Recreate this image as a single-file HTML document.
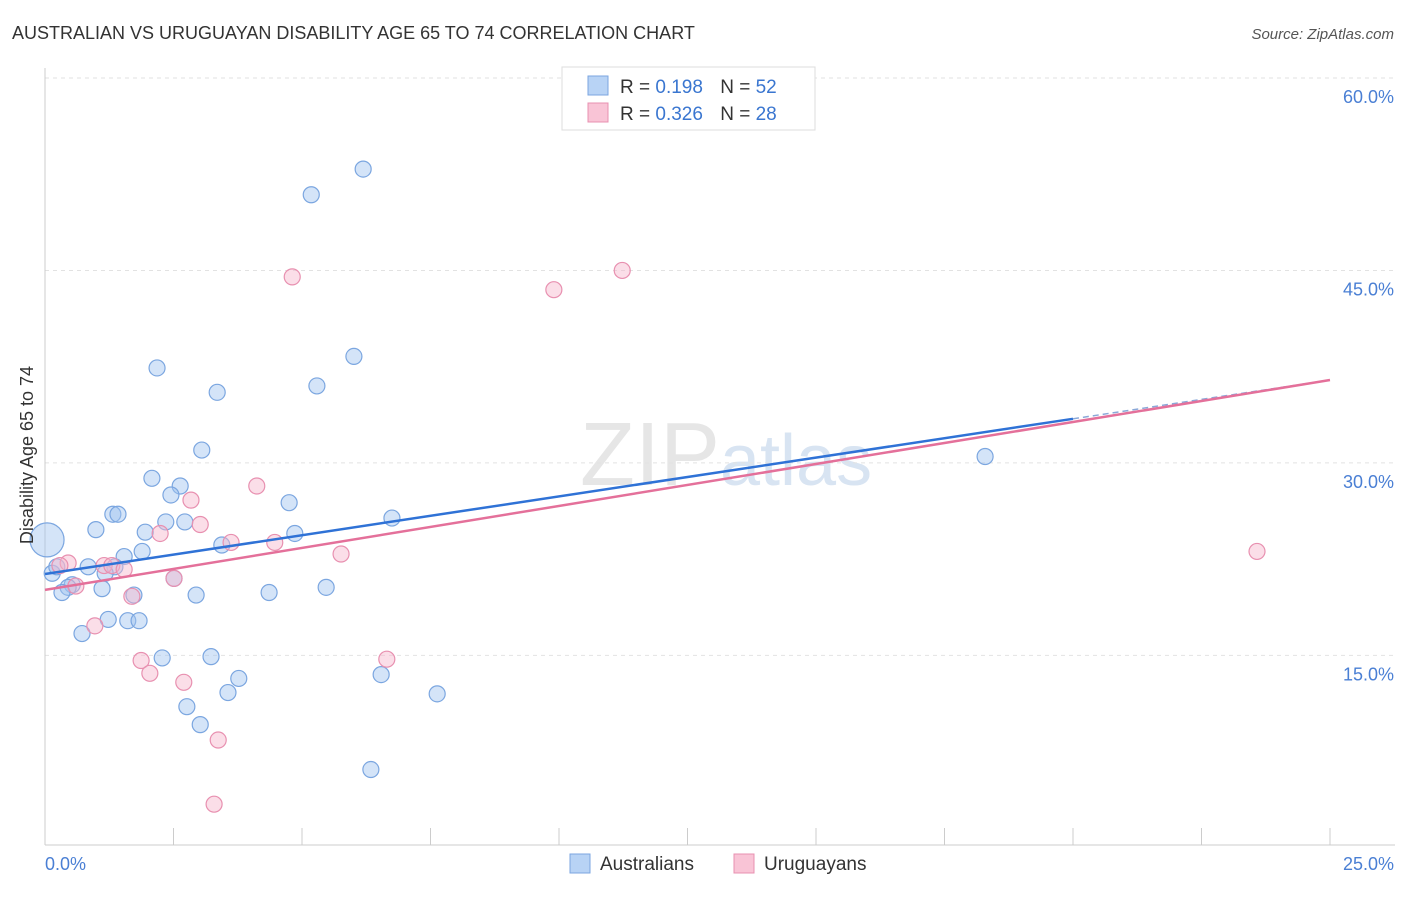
<!DOCTYPE html>
<html><head><meta charset="utf-8"><style>
body{margin:0;background:#fff;font-family:"Liberation Sans",sans-serif}
svg text{font-family:"Liberation Sans",sans-serif}
</style></head><body>
<svg id="chart" width="1406" height="892">
<text x="12" y="39" font-size="18" fill="#333">AUSTRALIAN VS URUGUAYAN DISABILITY AGE 65 TO 74 CORRELATION CHART</text>
<text x="1394" y="39" font-size="15" fill="#555" font-style="italic" text-anchor="end">Source: ZipAtlas.com</text>
<text x="720" y="485" font-size="90" fill="#e6e6e6" text-anchor="end" font-family="Liberation Serif">ZIP</text>
<text x="720" y="485" font-size="72" fill="#d8e4f2">atlas</text>
<g id="grid"></g>
<g id="axes"></g>
<g id="pts"></g>
<g id="lines"></g>
<text x="33" y="455" font-size="18" fill="#333" text-anchor="middle" transform="rotate(-90 33 455)">Disability Age 65 to 74</text>
<text x="45" y="870" font-size="18" fill="#4a7fd4">0.0%</text>
<text x="1394" y="870" font-size="18" fill="#4a7fd4" text-anchor="end">25.0%</text>
<g>
<rect x="562" y="67" width="253" height="63" fill="#fff" stroke="#ddd"/>
<rect x="588" y="76" width="20" height="19" fill="#b8d3f5" stroke="#7ba6e0"/>
<rect x="588" y="103" width="20" height="19" fill="#f9c4d6" stroke="#e890b0"/>
<text x="620" y="93" font-size="19" fill="#333">R = <tspan fill="#3a76d0">0.198</tspan>  <tspan dx="12">N = </tspan><tspan fill="#3a76d0">52</tspan></text>
<text x="620" y="120" font-size="19" fill="#333">R = <tspan fill="#3a76d0">0.326</tspan>  <tspan dx="12">N = </tspan><tspan fill="#3a76d0">28</tspan></text>
</g>
<g>
<rect x="570" y="854" width="20" height="19" fill="#b8d3f5" stroke="#7ba6e0"/>
<text x="600" y="870" font-size="19" fill="#333">Australians</text>
<rect x="734" y="854" width="20" height="19" fill="#f9c4d6" stroke="#e890b0"/>
<text x="764" y="870" font-size="19" fill="#333">Uruguayans</text>
</g>
</svg>
<script>
const yTicks=[15,30,45,60];
const yTickLabels=["15.0%","30.0%","45.0%","60.0%"];
const xTicks=[0,2.5,5,7.5,10,12.5,15,17.5,20,22.5,25];
const blueX=[0.04,6.19,5.18,2.18,6.01,3.35,5.29,3.05,18.29,2.08,2.63,2.45,4.75,1.32,1.42,6.75,0.99,1.95,2.35,2.72,4.86,3.44,1.89,1.54,0.84,1.36,0.14,0.23,1.17,2.51,0.53,0.45,1.11,0.33,1.73,2.94,4.36,5.47,1.23,1.61,1.83,0.72,2.28,3.23,3.77,6.54,3.56,7.63,2.76,3.02,6.34];
const blueY=[24.0,52.9,50.9,37.4,38.3,35.5,36.0,31.0,30.5,28.8,28.2,27.5,26.9,26.0,26.0,25.7,24.8,24.6,25.4,25.4,24.5,23.6,23.1,22.7,21.9,21.9,21.4,21.9,21.4,21.0,20.5,20.3,20.2,19.9,19.7,19.7,19.9,20.3,17.8,17.7,17.7,16.7,14.8,14.9,13.2,13.5,12.1,12.0,11.0,9.6,6.1];
const pinkX=[4.81,11.23,9.90,2.84,4.12,3.02,2.24,3.62,4.47,5.76,0.45,0.29,1.15,1.30,1.54,2.51,0.60,1.69,0.97,1.87,2.04,2.70,6.65,3.37,3.29,23.58];
const pinkY=[44.5,45.0,43.5,27.1,28.2,25.2,24.5,23.8,23.8,22.9,22.2,22.0,22.0,22.0,21.7,21.0,20.4,19.6,17.3,14.6,13.6,12.9,14.7,8.4,3.4,23.1];
const blueTrend=[21.34,36.46];
const pinkTrend=[20.1,36.46];
const X=v=>45+v*51.4, Y=v=>78+(60-v)*12.83;
const NS="http://www.w3.org/2000/svg";
function mk(tag,at,parent){const e=document.createElementNS(NS,tag);for(const k in at)e.setAttribute(k,at[k]);document.getElementById(parent).appendChild(e);return e;}
yTicks.forEach((t,i)=>{
 const g=mk('line',{x1:45,x2:1395,y1:Y(t),y2:Y(t),stroke:'#e2e2e2','stroke-dasharray':'4,4'},'grid');
 
 
 const l=mk('text',{x:1394,y:Y(t)+25,'font-size':18,fill:'#4a7fd4','text-anchor':'end'},'grid');
 l.textContent=yTickLabels[i];
 
 
});
const ax=mk('line',{x1:45,x2:45,y1:68,y2:845,stroke:'#ccc'},'axes');


const bx=mk('line',{x1:45,x2:1395,y1:845,y2:845,stroke:'#ccc'},'axes');


xTicks.forEach(t=>{const e=mk('line',{x1:X(t),x2:X(t),y1:828,y2:845,stroke:'#ccc'},'axes');
 
 });
blueX.forEach((v,i)=>{const c=mk('circle',{cx:X(v),cy:Y(blueY[i]),r:i===0?17:8,fill:'rgba(160,196,240,0.45)',stroke:'#7ba6e0','stroke-width':1.2},'pts');
 
 });
pinkX.forEach((v,i)=>{const c=mk('circle',{cx:X(v),cy:Y(pinkY[i]),r:8,fill:'rgba(246,182,204,0.45)',stroke:'#e890b0','stroke-width':1.2},'pts');
 
 });
const bAt=v=>blueTrend[0]+(blueTrend[1]-blueTrend[0])*v/25;
const l1=mk('line',{x1:X(0),y1:Y(bAt(0)),x2:X(20),y2:Y(bAt(20)),stroke:'#2f72d6','stroke-width':2.5},'lines');


const l2=mk('line',{x1:X(20),y1:Y(bAt(20)),x2:X(25),y2:Y(bAt(25)),stroke:'#8aa8d8','stroke-width':1.5,'stroke-dasharray':'6,4'},'lines');


const l3=mk('line',{x1:X(0),y1:Y(pinkTrend[0]),x2:X(25),y2:Y(pinkTrend[1]),stroke:'#e4709a','stroke-width':2.5},'lines');


</script>
</body></html>
